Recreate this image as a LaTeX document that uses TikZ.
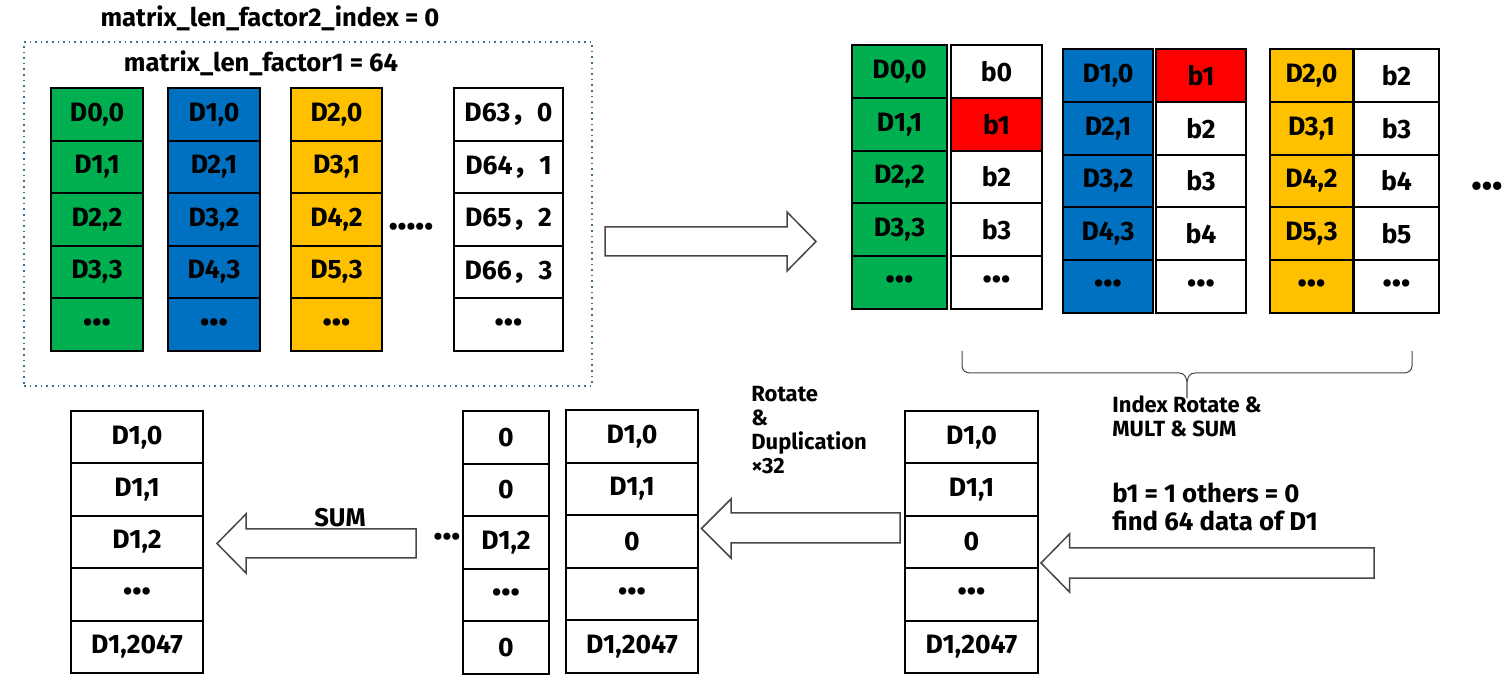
\documentclass[tikz,border=0pt]{standalone}
\usepackage{fontspec}
\setmainfont{Fira Sans}
\newfontfamily\cjk{Noto Sans CJK KR}
\definecolor{cg}{RGB}{0,176,80}
\definecolor{cb}{RGB}{0,112,192}
\definecolor{cy}{RGB}{255,192,0}
\definecolor{cr}{RGB}{255,0,0}
\definecolor{arrowgray}{RGB}{70,70,70}
\definecolor{framecol}{RGB}{60,110,140}
\tikzset{
  cell/.style={draw=black, line width=1pt, inner sep=0pt, text=black,
    font=\fontsize{13.3}{15}\selectfont\bfseries},
  lbl/.style={inner sep=0pt, font=\fontsize{12.8}{14}\selectfont\bfseries, align=left},
  condlbl/.style={inner sep=0pt, font=\fontsize{12.9}{14}\selectfont\bfseries, align=left},
  smalllbl/.style={inner sep=0pt, font=\fontsize{11}{12}\selectfont\bfseries, align=left},
  blockarrow/.style={draw=arrowgray, line width=0.75pt, fill=white, line join=miter},
  bracecol/.style={draw=arrowgray, line width=0.5pt},
}
% #1 prefix, #2 x left, #3 x right, #4 y top, #5 y bottom, #6 list text/fill
\newcommand\datacol[6]{%
  \foreach \t/\f [count=\i] in {#6} {
    \node[cell, fill=\f, minimum width={(#3-#2)*0.5pt}, minimum height={(#5-#4)/5*0.5pt}]
      (#1\i) at ({(#2+#3)/2}, {#4+(\i-0.5)*(#5-#4)/5}) {\t};
  }}
\begin{document}
\begin{tikzpicture}[x=0.5pt,y=-0.5pt]
\useasboundingbox (0,0) rectangle (1512,679);

% ---- top-left block ----
\node[lbl] (title2) at (270,18) {matrix\_len\_factor2\_index = 0};
\node[draw=framecol, dotted, line width=0.8pt, minimum width={568*0.5pt}, minimum height={344*0.5pt}, inner sep=0pt] (frame) at (308,214) {};
\node[lbl] (title1) at (261,63) {matrix\_len\_factor1 = 64};

\datacol{ga}{51}{143}{88}{351}{{D0,0}/cg,{D1,1}/cg,{D2,2}/cg,{D3,3}/cg,•••/cg}
\datacol{ba}{168}{260}{88}{351}{{D1,0}/cb,{D2,1}/cb,{D3,2}/cb,{D4,3}/cb,•••/cb}
\datacol{ya}{291}{382}{88}{351}{{D2,0}/cy,{D3,1}/cy,{D4,2}/cy,{D5,3}/cy,•••/cy}
\node[lbl] (dotsA) at (411,229) {•••••};
\datacol{wa}{454}{563}{88}{351}{{D63{\cjk ，}0}/white,{D64{\cjk ，}1}/white,{D65{\cjk ，}2}/white,{D66{\cjk ，}3}/white,•••/white}

% arrow to the right
\draw[blockarrow] (605,227) -- (787,227) -- (787,212) -- (816,241.5) -- (787,271) -- (787,256) -- (605,256) -- cycle;

% ---- top-right pairs ----
\datacol{gd}{852}{947}{45}{309}{{D0,0}/cg,{D1,1}/cg,{D2,2}/cg,{D3,3}/cg,•••/cg}
\datacol{gb}{951}{1042}{45}{309}{b0/white,b1/cr,b2/white,b3/white,•••/white}
\datacol{bd}{1063}{1153}{49}{313}{{D1,0}/cb,{D2,1}/cb,{D3,2}/cb,{D4,3}/cb,•••/cb}
\datacol{bb}{1156}{1246}{49}{313}{b1/cr,b2/white,b3/white,b4/white,•••/white}
\datacol{yd}{1270}{1353}{49}{313}{{D2,0}/cy,{D3,1}/cy,{D4,2}/cy,{D5,3}/cy,•••/cy}
\datacol{yb}{1354}{1439}{49}{313}{b2/white,b3/white,b4/white,b5/white,•••/white}
\node[lbl, font=\fontsize{15}{16}\selectfont\bfseries] (dotsB) at (1487,189) {•••};

% brace
\draw[bracecol] (962,351) -- (962,366) to[out=-90,in=180] (970,373) -- (1179,373)
  to[out=0,in=90] (1187,398) to[out=90,in=180] (1195,373) -- (1404,373)
  to[out=0,in=-90] (1412,366) -- (1412,351);
\node[smalllbl, anchor=west] (idx) at (1112,416) {Index Rotate \&\\MULT \& SUM};

% ---- bottom ----
\datacol{r}{905}{1038}{411}{673}{{D1,0}/white,{D1,1}/white,0/white,•••/white,{D1,2047}/white}
\node[condlbl, anchor=west] (cond) at (1112,507) {b1 = 1 others = 0\\find 64 data of D1};
\draw[blockarrow] (1374,548) -- (1069.5,548) -- (1069.5,534) -- (1041,563) -- (1069.5,592) -- (1069.5,578) -- (1374,578) -- cycle;

\datacol{m}{566}{698}{410}{673}{{D1,0}/white,{D1,1}/white,0/white,•••/white,{D1,2047}/white}
\datacol{z}{463}{549}{411}{674}{0/white,0/white,{D1,2}/white,•••/white,0/white}
\node[smalllbl, anchor=west] (rot) at (751,430) {Rotate\\\&\\Duplication\\×32};
\draw[blockarrow] (900,513) -- (731,513) -- (731,499) -- (701.5,528.5) -- (731,558) -- (731,543) -- (900,543) -- cycle;

\node[lbl] (dotsC) at (447,539) {•••};
\draw[blockarrow] (416,529) -- (246,529) -- (246,514) -- (217,543.5) -- (246,573) -- (246,558) -- (416,558) -- cycle;
\node[lbl] (sum) at (340,518) {SUM};

\datacol{l}{71}{203}{411}{673}{{D1,0}/white,{D1,1}/white,{D1,2}/white,•••/white,{D1,2047}/white}
\end{tikzpicture}
\end{document}
